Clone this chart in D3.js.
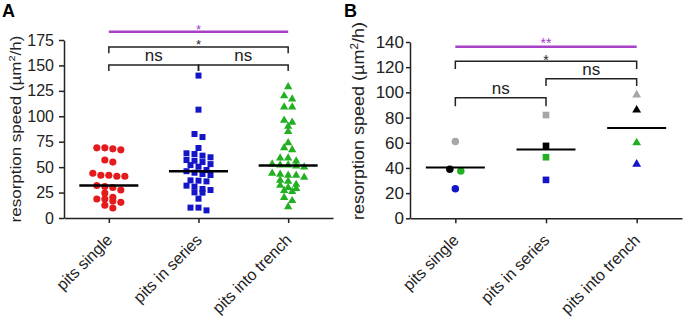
<!DOCTYPE html>
<html>
<head>
<meta charset="utf-8">
<script src="https://cdnjs.cloudflare.com/ajax/libs/d3/7.8.5/d3.min.js"></script>
<style>
  body { margin: 0; background: #fff; }
  svg { display: block; font-family: Arial, "Liberation Sans", sans-serif; }
</style>
</head>
<body>
<div id="chart"></div>
<script>
//---->DATA<-----//
const categories = ['pits single', 'pits in series', 'pits into trench'];

// panel A: individual pits
const singleA = [69, 69, 68, 67, 57, 55, 44, 42, 42, 41, 41, 32, 31, 30, 27.5, 24.5, 20.3, 18.7, 18.7, 16.7, 15.4, 12.5, 9.8];
const seriesA = [140, 106.5, 82.6, 79.6, 68.8, 63.6, 62.9, 61.3, 59.7, 57, 56.3, 55, 53, 52, 50.4, 47.2,
    46, 44.5, 43.3, 42.3, 37, 36.7, 36, 31.8, 30.8, 28.5, 27.5, 25.2, 24.9, 19, 10.2, 10.2, 7.5];
const trenchA = [129, 120, 117, 109, 109, 96, 94, 90, 85, 74, 69, 67, 59, 59, 56, 53, 52, 52, 51, 50,
    44, 43, 42, 42, 40, 37, 36, 33, 32, 30, 29, 27, 26, 20, 17, 11];
const ticksA = [0, 25, 50, 75, 100, 125, 150, 175];

// panel B: experiment means (one value per category)
const greyB = [61, 82, 98];
const blackB = [39, 57.5, 86];
const greenB = [37.5, 48.5, 60];
const blueB = [23.5, 30.5, 43];
const ticksB = [0, 20, 40, 60, 80, 100, 120, 140];

const purple = '#a840c8';

const svg = d3.select('#chart').append('svg')
    .attr('width', 683)
    .attr('height', 320);

const shapes = [d3.symbolCircle, d3.symbolSquare, d3.symbolTriangle];

// rows of near-equal values, spread sideways like a dot plot
function swarm(values, y, gap, step) {
    const sorted = values.slice().sort((a, b) => b - a);
    const out = [];
    let row = [];
    const flush = () => {
        row.forEach((v, i) => out.push({ v: v, dx: (i - (row.length - 1) / 2) * step }));
        row = [];
    };
    sorted.forEach(v => {
        if (row.length && Math.abs(y(v) - y(row[0])) > gap) flush();
        row.push(v);
    });
    flush();
    return out;
}

function axes(g, x, y, ticks, opt) {
    const yAxis = g.append('g')
        .attr('transform', 'translate(' + x.range()[0] + ',0)')
        .call(d3.axisLeft(y)
            .tickValues(ticks)
            .tickSize(opt.tick)
            .tickSizeOuter(0)
            .tickPadding(opt.pad));
    yAxis.selectAll('text').attr('font-size', opt.fs).attr('fill', '#222');

    const xAxis = g.append('g')
        .attr('transform', 'translate(0,' + y(0) + ')')
        .call(d3.axisBottom(x).tickSize(5).tickSizeOuter(0));
    xAxis.selectAll('text')
        .attr('font-size', 16)
        .attr('fill', '#222')
        .attr('x', null).attr('y', null).attr('dy', null)
        .attr('text-anchor', 'end')
        .attr('transform', 'translate(4,23) rotate(-45)');

    g.selectAll('.domain, .tick line').attr('stroke', '#222').attr('stroke-width', 1.5);
}

function bracket(g, x0, x1, yLine, yLeg, color) {
    g.append('path')
        .attr('d', 'M' + x0 + ',' + yLeg + 'V' + yLine + 'H' + x1 + 'V' + yLeg)
        .attr('fill', 'none')
        .attr('stroke', color)
        .attr('stroke-width', 1.5);
}

function label(g, x, y, txt, fs, color) {
    g.append('text')
        .attr('x', x).attr('y', y)
        .attr('text-anchor', 'middle')
        .attr('font-size', fs)
        .attr('fill', color)
        .text(txt);
}

function yTitle(g, x, y, fs) {
    const t = g.append('text')
        .attr('transform', 'translate(' + x + ',' + y + ') rotate(-90) scale(1,0.88)')
        .attr('text-anchor', 'middle')
        .attr('font-size', fs)
        .attr('fill', '#222');
    t.append('tspan').text('resorption speed (\u00b5m');
    t.append('tspan').attr('font-size', fs * 0.65).attr('dy', -fs * 0.4).text('2');
    t.append('tspan').attr('dy', fs * 0.4).text('/h)');
}

//---->PANEL A<-----//
const xA = d3.scalePoint().domain(categories).range([64, 333]).padding(0.5);
const yA = d3.scaleLinear().domain([0, 175]).range([218, 40]);
const gA = svg.append('g');

axes(gA, xA, yA, ticksA, { tick: 5, pad: 5, fs: 16 });
yTitle(gA, 21, 129, 17);

const groupsA = [
    { cat: categories[0], vals: singleA, color: '#e41a1c', shape: 0, size: 40 },
    { cat: categories[1], vals: seriesA, color: '#1414c8', shape: 1, size: 36 },
    { cat: categories[2], vals: trenchA, color: '#22b022', shape: 2, size: 30 }
];

groupsA.forEach(grp => {
    gA.append('g').selectAll('path')
        .data(swarm(grp.vals, yA, 5, 8))
        .enter().append('path')
        .attr('transform', d => 'translate(' + (xA(grp.cat) + d.dx) + ',' + yA(d.v) + ')')
        .attr('d', d3.symbol(shapes[grp.shape], grp.size))
        .attr('fill', grp.color);

    const med = d3.median(grp.vals);
    gA.append('line')
        .attr('x1', xA(grp.cat) - 29.5).attr('x2', xA(grp.cat) + 29.5)
        .attr('y1', yA(med)).attr('y2', yA(med))
        .attr('stroke', '#000')
        .attr('stroke-width', 2.5);
});

// significance
const a0 = xA(categories[0]), a1 = xA(categories[1]), a2 = xA(categories[2]);
gA.append('line')
    .attr('x1', a0).attr('x2', a2)
    .attr('y1', yA(183)).attr('y2', yA(183))
    .attr('stroke', purple).attr('stroke-width', 2.5);
label(gA, a1, yA(183) + 1.8, '*', 13, purple);
bracket(gA, a0, a2, yA(168), yA(162), '#222');
label(gA, a1, yA(168) + 1.6, '*', 13, '#222');
bracket(gA, a0, a1, yA(150.5), yA(144.5), '#222');
bracket(gA, a1, a2, yA(150.5), yA(144.5), '#222');
label(gA, (a0 + a1) / 2, yA(150.5) - 4, 'ns', 17, '#222');
label(gA, (a1 + a2) / 2, yA(150.5) - 4, 'ns', 17, '#222');

gA.append('text')
    .attr('x', 2).attr('y', 17)
    .attr('font-size', 18).attr('font-weight', 'bold')
    .text('A');

//---->PANEL B<-----//
const xB = d3.scalePoint().domain(categories).range([410, 682]).padding(0.5);
const yB = d3.scaleLinear().domain([0, 140]).range([218.3, 42]);
const gB = svg.append('g');

axes(gB, xB, yB, ticksB, { tick: 4, pad: 2, fs: 17 });
yTitle(gB, 364, 121, 18);

const reps = [
    { vals: greyB, color: '#a6a6a6' },
    { vals: blackB, color: '#000' },
    { vals: greenB, color: '#22b022' },
    { vals: blueB, color: '#1414c8' }
];

categories.forEach((cat, ci) => {
    const vals = reps.map(r => r.vals[ci]);
    const placed = swarm(vals, yB, 4, 11);
    const used = new Set();
    reps.forEach(r => {
        const v = r.vals[ci];
        const p = placed.find((d, i) => d.v === v && !used.has(i));
        used.add(placed.indexOf(p));
        gB.append('path')
            .attr('transform', 'translate(' + (xB(cat) + p.dx) + ',' + yB(v) + ')')
            .attr('d', d3.symbol(shapes[ci], ci === 2 ? 34 : 44))
            .attr('fill', r.color);
    });

    const mean = d3.mean(vals);
    gB.append('line')
        .attr('x1', xB(cat) - 29.5).attr('x2', xB(cat) + 29.5)
        .attr('y1', yB(mean)).attr('y2', yB(mean))
        .attr('stroke', '#000')
        .attr('stroke-width', 2);
});

const b0 = xB(categories[0]), b1 = xB(categories[1]), b2 = xB(categories[2]);
gB.append('line')
    .attr('x1', b0).attr('x2', b2)
    .attr('y1', yB(136.3)).attr('y2', yB(136.3))
    .attr('stroke', purple).attr('stroke-width', 2.5);
label(gB, b1, yB(136.3) + 1.5, '**', 14, purple);
bracket(gB, b0, b2, yB(124.8), yB(118.5), '#222');
label(gB, b1, yB(124.8) + 3.5, '*', 14, '#222');
bracket(gB, b1, b2, yB(110.8), yB(105), '#222');
label(gB, (b1 + b2) / 2, yB(110.8) - 3.5, 'ns', 17, '#222');
bracket(gB, b0, b1, yB(95.8), yB(88.9), '#222');
label(gB, (b0 + b1) / 2, yB(95.8) - 3.5, 'ns', 17, '#222');

gB.append('text')
    .attr('x', 344).attr('y', 17)
    .attr('font-size', 18).attr('font-weight', 'bold')
    .text('B');
</script>
</body>
</html>
